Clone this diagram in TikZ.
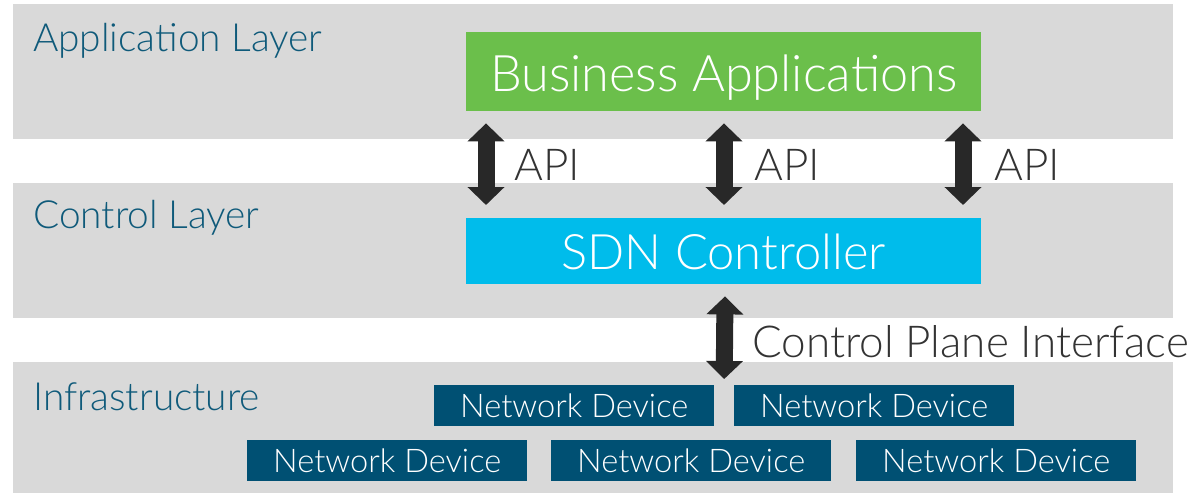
\documentclass[tikz,border=0pt]{standalone}
\usepackage{fontspec}
\setmainfont{Lato Light}
\usetikzlibrary{arrows.meta,calc}
\definecolor{bandgray}{HTML}{D9D9D9}
\definecolor{bizgreen}{HTML}{6BBF4B}
\definecolor{sdncyan}{HTML}{00BCEB}
\definecolor{devteal}{HTML}{005073}
\definecolor{labteal}{HTML}{0F5A7A}
\definecolor{arrowdark}{HTML}{282828}
\definecolor{apitext}{HTML}{333333}
\tikzset{
  band/.style={fill=bandgray, draw=none, inner sep=0pt, anchor=north west},
  layerlabel/.style={anchor=base west, inner sep=0pt, text=labteal, font=\fontsize{38.8}{40}\selectfont},
  bigbox/.style={draw=none, inner sep=0pt, anchor=north west, text=white, minimum width=515pt, text depth=0pt},
  devbox/.style={fill=devteal, draw=none, inner sep=0pt, anchor=north west, text=white,
    minimum width=280pt, minimum height=41pt, font=\fontsize{32.6}{33}\selectfont, text height=24pt, text depth=0pt},
  dblarrow/.style={draw=arrowdark, line width=17pt,
    {Triangle[width=36pt,length=18pt]}-{Triangle[width=36pt,length=18pt]}},
  arrowlabel/.style={anchor=base west, inner sep=0pt, text=apitext, font=\fontsize{44}{44}\selectfont}
}
\begin{document}
\begin{tikzpicture}[x=1pt,y=-1pt]
\useasboundingbox (0,0) rectangle (1194,495);
% bands
\node[band, minimum width=1160pt, minimum height=135pt] (appband) at (13,4) {};
\node[band, minimum width=1160pt, minimum height=135pt] (ctlband) at (13,183) {};
\node[band, minimum width=1160pt, minimum height=131pt] (infband) at (13,362) {};
% layer labels
\node[layerlabel] (applab) at (33,52) {Application Layer};
\node[layerlabel] (ctllab) at (33,228) {Control Layer};
\node[layerlabel] (inflab) at (33,410) {Infrastructure};
% main boxes
\node[bigbox, fill=bizgreen, minimum height=79pt, font=\fontsize{50.4}{51}\selectfont, text height=39pt] (ba) at (466,32) {Business Applications};
\node[bigbox, fill=sdncyan, minimum height=66pt, font=\fontsize{48.9}{49}\selectfont, text height=36pt] (sdn) at (466,218) {SDN Controller};
% network devices
\node[devbox] (nd1) at (434,385) {Network Device};
\node[devbox] (nd2) at (734,385) {Network Device};
\node[devbox] (nd3) at (247,440) {Network Device};
\node[devbox] (nd4) at (551,440) {Network Device};
\node[devbox] (nd5) at (856,440) {Network Device};
% API arrows
\draw[dblarrow] ($(ba.south west)+(20,12)$) -- ($(sdn.north west)+(20,-13)$);
\draw[dblarrow] ($(ba.south west)+(258,12)$) -- ($(sdn.north west)+(258,-13)$);
\draw[dblarrow] ($(ba.south west)+(497,12)$) -- ($(sdn.north west)+(497,-13)$);
\node[arrowlabel] (api1) at (514,180) {API};
\node[arrowlabel] (api2) at (754,180) {API};
\node[arrowlabel] (api3) at (994,180) {API};
% control plane arrow
\coordinate (gap) at ($(nd1.north east)!0.5!(nd2.north west)$);
\draw[dblarrow] ($(sdn.south west)+(259,12)$) -- ($(gap)+(0,-6)$);
\node[arrowlabel] (cpi) at (752,357) {Control Plane Interface};
\end{tikzpicture}
\end{document}
